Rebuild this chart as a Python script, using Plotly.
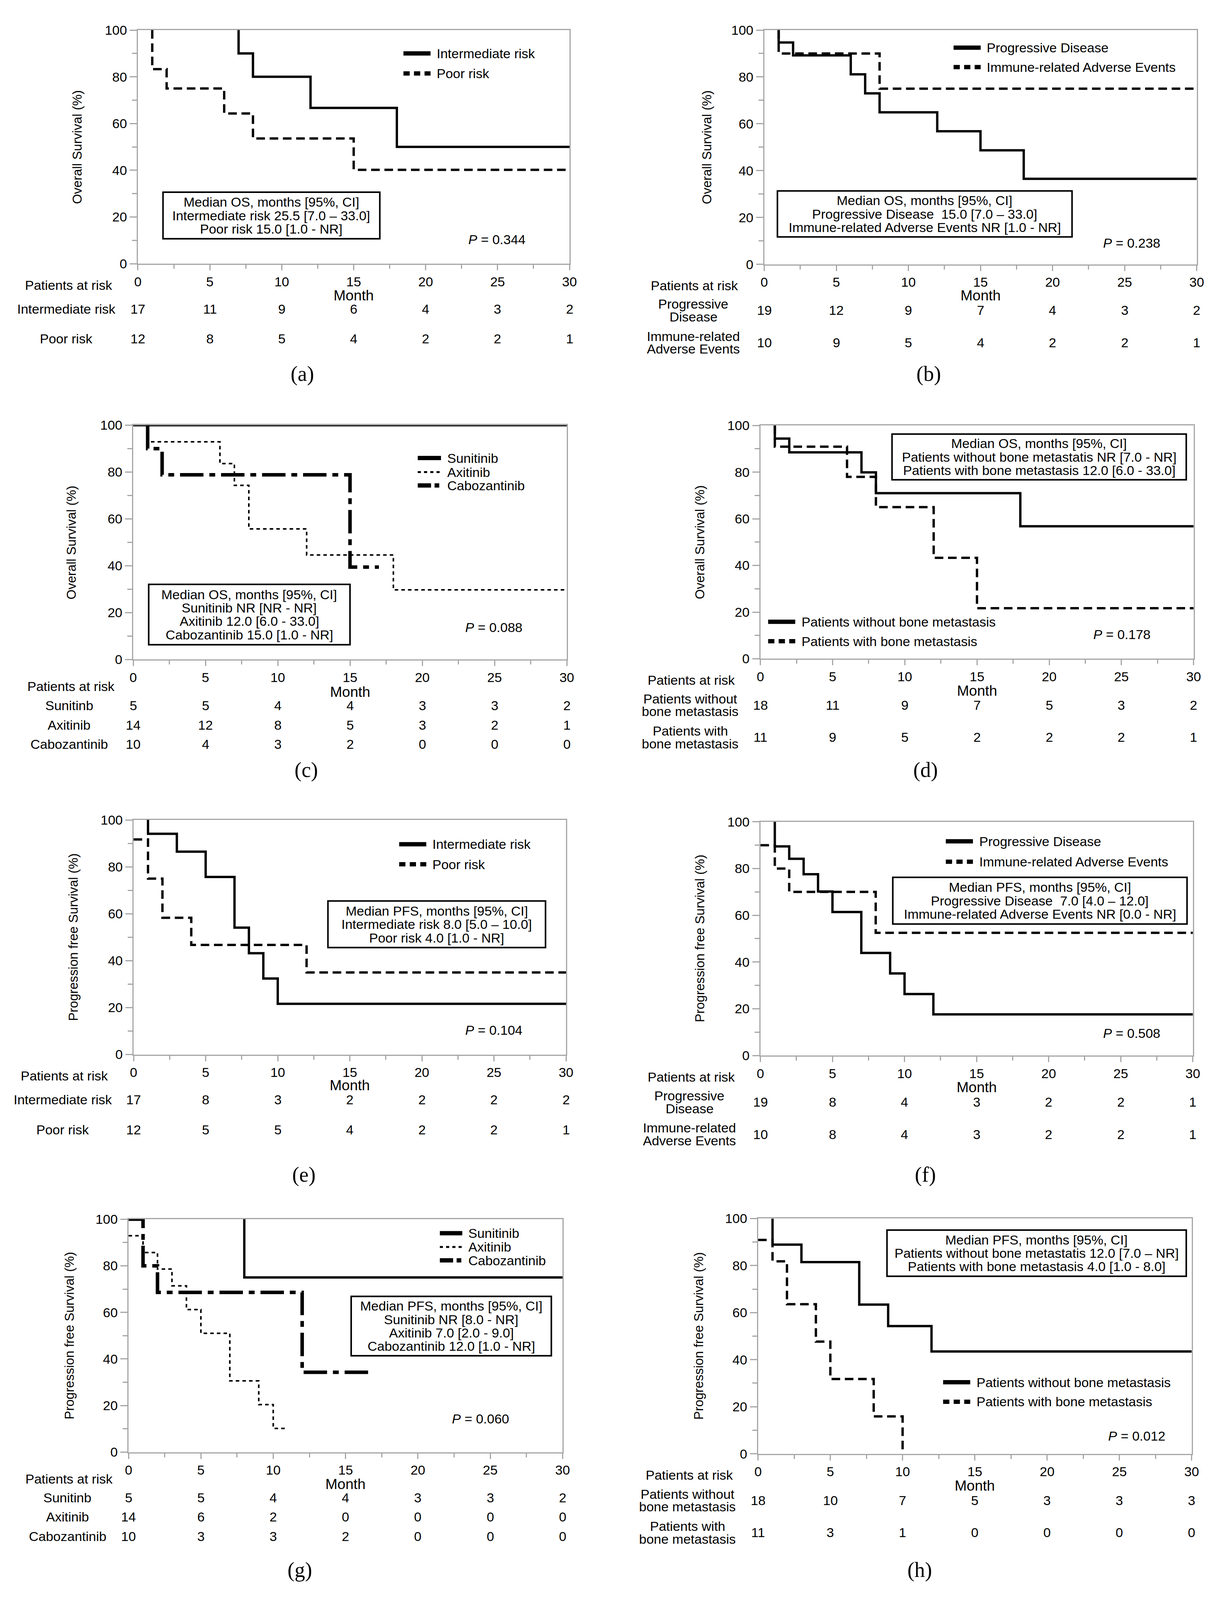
import plotly.graph_objects as go

W, H = 3154, 4967          # reference canvas, used only to express positions as fractions
FONT = "Liberation Sans, Arial, sans-serif"
SERIF = "Liberation Serif, Times New Roman, serif"
FS = 34
AXIS_GRAY = "#a6a6a6"

MONTH_TICKS = [0, 5, 10, 15, 20, 25, 30]

# ---------------- data ----------------
# (a) OS by IMDC risk
a_names = ["Intermediate risk", "Poor risk"]
a_inter_x = [7, 7, 8, 12, 18, 30]
a_inter_y = [100, 90, 80, 66.7, 50, 50]
a_poor_x = [1, 1, 2, 6, 8, 15, 30]
a_poor_y = [100, 83.3, 75, 64.3, 53.6, 40.2, 40.2]
a_risk_inter = [17, 11, 9, 6, 4, 3, 2]
a_risk_poor = [12, 8, 5, 4, 2, 2, 1]

# (b) OS by reason for discontinuation
b_names = ["Progressive Disease", "Immune-related Adverse Events"]
b_pd_x = [1, 1, 2, 6, 7, 8, 12, 15, 18, 30]
b_pd_y = [100, 94.7, 89.2, 81.1, 73.0, 64.9, 56.8, 48.7, 36.5, 36.5]
b_irae_x = [1, 1, 8, 30]
b_irae_y = [100, 90, 75, 75]
b_risk_pd = [19, 12, 9, 7, 4, 3, 2]
b_risk_irae = [10, 9, 5, 4, 2, 2, 1]

# (c) OS by second-line drug
c_names = ["Sunitinib", "Axitinib", "Cabozantinib"]
c_sun_x = [0, 30]
c_sun_y = [100, 100]
c_axi_x = [1, 1, 6, 7, 8, 12, 18, 30]
c_axi_y = [100, 92.9, 83.6, 74.3, 55.7, 44.6, 29.7, 29.7]
c_cabo_x = [1, 1, 2, 15, 17]
c_cabo_y = [100, 90, 78.8, 39.4, 39.4]
c_risk_sun = [5, 5, 4, 4, 3, 3, 2]
c_risk_axi = [14, 12, 8, 5, 3, 2, 1]
c_risk_cabo = [10, 4, 3, 2, 0, 0, 0]

# (d) OS by bone metastasis
d_names = ["Patients without bone metastasis", "Patients with bone metastasis"]
d_wo_x = [1, 1, 2, 7, 8, 18, 30]
d_wo_y = [100, 94.4, 88.5, 79.9, 71.0, 56.8, 56.8]
d_w_x = [1, 1, 6, 8, 12, 15, 30]
d_w_y = [100, 90.9, 78.0, 65.0, 43.3, 21.7, 21.7]
d_risk_wo = [18, 11, 9, 7, 5, 3, 2]
d_risk_w = [11, 9, 5, 2, 2, 2, 1]

# (e) PFS by IMDC risk
e_names = ["Intermediate risk", "Poor risk"]
e_inter_x = [1, 1, 3, 5, 7, 8, 9, 10, 30]
e_inter_y = [100, 94.1, 86.5, 75.7, 54.1, 43.2, 32.4, 21.6, 21.6]
e_poor_x = [0, 1, 2, 4, 12, 30]
e_poor_y = [91.7, 75.0, 58.3, 46.7, 35.0, 35.0]
e_risk_inter = [17, 8, 3, 2, 2, 2, 2]
e_risk_poor = [12, 5, 5, 4, 2, 2, 1]

# (f) PFS by reason for discontinuation
f_names = ["Progressive Disease", "Immune-related Adverse Events"]
f_pd_x = [1, 1, 2, 3, 4, 5, 7, 9, 10, 12, 30]
f_pd_y = [100, 89.5, 84.2, 77.6, 70.2, 61.4, 43.9, 35.1, 26.3, 17.6, 17.6]
f_irae_x = [0, 1, 2, 8, 30]
f_irae_y = [90, 80, 70, 52.5, 52.5]
f_risk_pd = [19, 8, 4, 3, 2, 2, 1]
f_risk_irae = [10, 8, 4, 3, 2, 2, 1]

# (g) PFS by second-line drug
g_names = ["Sunitinib", "Axitinib", "Cabozantinib"]
g_sun_x = [8, 8, 30]
g_sun_y = [100, 75, 75]
g_axi_x = [0, 1, 2, 3, 4, 5, 7, 9, 10, 11]
g_axi_y = [92.9, 85.7, 78.6, 71.4, 61.2, 51.0, 30.6, 20.4, 10.2, 10.2]
g_cabo_x = [0, 1, 2, 12, 16.6]
g_cabo_y = [100, 80, 68.6, 34.3, 34.3]
g_risk_sun = [5, 5, 4, 4, 3, 3, 2]
g_risk_axi = [14, 6, 2, 0, 0, 0, 0]
g_risk_cabo = [10, 3, 3, 2, 0, 0, 0]

# (h) PFS by bone metastasis
h_names = ["Patients without bone metastasis", "Patients with bone metastasis"]
h_wo_x = [1, 1, 3, 7, 9, 12, 30]
h_wo_y = [100, 88.9, 81.5, 63.4, 54.3, 43.5, 43.5]
h_w_x = [0, 1, 2, 4, 5, 8, 10]
h_w_y = [90.9, 81.8, 63.6, 47.7, 31.8, 15.9, 0]
h_risk_wo = [18, 10, 7, 5, 3, 3, 3]
h_risk_w = [11, 3, 1, 0, 0, 0, 0]

a_box = ["Median OS, months [95%, CI]", "Intermediate risk 25.5 [7.0 – 33.0]", "Poor risk 15.0 [1.0 - NR]"]
b_box = ["Median OS, months [95%, CI]", "Progressive Disease  15.0 [7.0 – 33.0]", "Immune-related Adverse Events NR [1.0 - NR]"]
c_box = ["Median OS, months [95%, CI]", "Sunitinib NR [NR - NR]", "Axitinib 12.0 [6.0 - 33.0]", "Cabozantinib 15.0 [1.0 - NR]"]
d_box = ["Median OS, months [95%, CI]", "Patients without bone metastatis NR [7.0 - NR]", "Patients with bone metastasis 12.0 [6.0 - 33.0]"]
e_box = ["Median PFS, months [95%, CI]", "Intermediate risk 8.0 [5.0 – 10.0]", "Poor risk 4.0 [1.0 - NR]"]
f_box = ["Median PFS, months [95%, CI]", "Progressive Disease  7.0 [4.0 – 12.0]", "Immune-related Adverse Events NR [0.0 - NR]"]
g_box = ["Median PFS, months [95%, CI]", "Sunitinib NR [8.0 - NR]", "Axitinib 7.0 [2.0 - 9.0]", "Cabozantinib 12.0 [1.0 - NR]"]
h_box = ["Median PFS, months [95%, CI]", "Patients without bone metastatis 12.0 [7.0 – NR]", "Patients with bone metastasis 4.0 [1.0 - 8.0]"]

p_values = ["0.344", "0.238", "0.088", "0.178", "0.104", "0.508", "0.060", "0.012"]

# ---------------- styles ----------------
SOLID = dict(color="black", width=6)
DASH = dict(color="black", width=6, dash="22px,12px")
DOT = dict(color="black", width=4, dash="9px,8px")
DASHDOT = dict(color="black", width=9, dash="60px,15px,15px,15px")
# legend key styles (thicker keys, as in the reference)
K_SOLID = dict(color="black", width=11)
K_DASH = dict(color="black", width=11, dash="16px,11px")
K_DOT = dict(color="black", width=5, dash="8px,8px")
K_DASHDOT = dict(color="black", width=11, dash="34px,9px,12px,9px")

OS = "Overall Survival (%)"
PFS = "Progression free Survival (%)"

panels = [
    dict(x0=347, x30=1462, y100=71, y0=803, ytitle=OS, ytx=190,
         traces=[(a_names[0], a_inter_x, a_inter_y, SOLID, K_SOLID), (a_names[1], a_poor_x, a_poor_y, DASH, K_DASH)],
         leg=(1033, 70, [144, 207]), box=(a_box, 412, 579, 972, 725), pxy=(1275, 727),
         month_y=903, risk_title=(168, 870), label_x=162,
         rows=[(["Intermediate risk"], a_risk_inter, 945), (["Poor risk"], a_risk_poor, 1038)],
         tag=("(a)", 772, 1148)),
    dict(x0=1965, x30=3082, y100=71, y0=805, ytitle=OS, ytx=1817,
         traces=[(b_names[0], b_pd_x, b_pd_y, SOLID, K_SOLID), (b_names[1], b_irae_x, b_irae_y, DASH, K_DASH)],
         leg=(2454, 70, [126, 187]), box=(b_box, 1999, 575, 2760, 719), pxy=(2914, 738),
         month_y=903, risk_title=(1785, 871), label_x=1782,
         rows=[(["Progressive", "Disease"], b_risk_pd, 949), (["Immune-related", "Adverse Events"], b_risk_irae, 1050)],
         tag=("(b)", 2390, 1148)),
    dict(x0=335, x30=1455, y100=1309, y0=2043, ytitle=OS, ytx=175,
         traces=[(c_names[0], c_sun_x, c_sun_y, SOLID, K_SOLID), (c_names[1], c_axi_x, c_axi_y, DOT, K_DOT),
                 (c_names[2], c_cabo_x, c_cabo_y, DASHDOT, K_DASHDOT)],
         leg=(1070, 60, [1412, 1456, 1498]), box=(c_box, 375, 1808, 895, 1997), pxy=(1267, 1942),
         month_y=2145, risk_title=(175, 2127), label_x=170,
         rows=[(["Sunitinb"], c_risk_sun, 2187), (["Axitinib"], c_risk_axi, 2248), (["Cabozantinib"], c_risk_cabo, 2308)],
         tag=("(c)", 782, 2389)),
    dict(x0=1955, x30=3074, y100=1310, y0=2041, ytitle=OS, ytx=1799,
         traces=[(d_names[0], d_wo_x, d_wo_y, SOLID, K_SOLID), (d_names[1], d_w_x, d_w_y, DASH, K_DASH)],
         leg=(1975, 70, [1925, 1986]), box=(d_box, 2295, 1337, 3055, 1480), pxy=(2889, 1965),
         month_y=2141, risk_title=(1777, 2108), label_x=1774,
         rows=[(["Patients without", "bone metastasis"], d_risk_wo, 2186), (["Patients with", "bone metastasis"], d_risk_w, 2287)],
         tag=("(d)", 2382, 2389)),
    dict(x0=336, x30=1453, y100=2546, y0=3281, ytitle=PFS, ytx=180,
         traces=[(e_names[0], e_inter_x, e_inter_y, SOLID, K_SOLID), (e_names[1], e_poor_x, e_poor_y, DASH, K_DASH)],
         leg=(1022, 70, [2622, 2685]), box=(e_box, 838, 2800, 1400, 2946), pxy=(1267, 3205),
         month_y=3378, risk_title=(157, 3348), label_x=153,
         rows=[(["Intermediate risk"], e_risk_inter, 3422), (["Poor risk"], e_risk_poor, 3516)],
         tag=("(e)", 776, 3657)),
    dict(x0=1955, x30=3072, y100=2552, y0=3284, ytitle=PFS, ytx=1799,
         traces=[(f_names[0], f_pd_x, f_pd_y, SOLID, K_SOLID), (f_names[1], f_irae_x, f_irae_y, DASH, K_DASH)],
         leg=(2434, 70, [2613, 2677]), box=(f_box, 2297, 2726, 3057, 2872), pxy=(2914, 3214),
         month_y=3384, risk_title=(1777, 3351), label_x=1772,
         rows=[(["Progressive", "Disease"], f_risk_pd, 3430), (["Immune-related", "Adverse Events"], f_risk_irae, 3531)],
         tag=("(f)", 2381, 3657)),
    dict(x0=323, x30=1444, y100=3797, y0=4527, ytitle=PFS, ytx=170,
         traces=[(g_names[0], g_sun_x, g_sun_y, SOLID, K_SOLID), (g_names[1], g_axi_x, g_axi_y, DOT, K_DOT),
                 (g_names[2], g_cabo_x, g_cabo_y, DASHDOT, K_DASHDOT)],
         leg=(1127, 58, [3841, 3884, 3926]), box=(g_box, 898, 4039, 1415, 4225), pxy=(1232, 4422),
         month_y=4627, risk_title=(170, 4611), label_x=165,
         rows=[(["Sunitinb"], g_risk_sun, 4670), (["Axitinib"], g_risk_axi, 4730), (["Cabozantinib"], g_risk_cabo, 4791)],
         tag=("(g)", 765, 4896)),
    dict(x0=1949, x30=3069, y100=3795, y0=4532, ytitle=PFS, ytx=1795,
         traces=[(h_names[0], h_wo_x, h_wo_y, SOLID, K_SOLID), (h_names[1], h_w_x, h_w_y, DASH, K_DASH)],
         leg=(2427, 70, [4308, 4369]), box=(h_box, 2282, 3831, 3055, 3976), pxy=(2927, 4476),
         month_y=4632, risk_title=(1772, 4598), label_x=1767,
         rows=[(["Patients without", "bone metastasis"], h_risk_wo, 4678), (["Patients with", "bone metastasis"], h_risk_w, 4779)],
         tag=("(h)", 2367, 4896)),
]


def px(x):
    return x / W


def py(y):
    return 1 - y / H


def text_ann(text, x, y, xref="paper", xanchor="center", size=FS, **kw):
    return dict(text=text, xref=xref, yref="paper", x=x, y=y, xanchor=xanchor,
                yanchor="middle", showarrow=False, font=dict(size=size), **kw)


fig = go.Figure()
layout = dict(
    autosize=True,
    margin=dict(l=0, r=0, t=0, b=0),
    paper_bgcolor="white", plot_bgcolor="white",
    font=dict(family=FONT, size=FS, color="black"),
    showlegend=False,
)
annotations = []
shapes = []

for i, p in enumerate(panels, start=1):
    sfx = "" if i == 1 else str(i)
    xa, ya = "x" + sfx, "y" + sfx

    # survival curves
    for name, xs, ys, style, _ in p["traces"]:
        fig.add_trace(go.Scatter(
            x=xs, y=ys, mode="lines", name=name,
            line=dict(shape="hv", **style),
            xaxis=xa, yaxis=ya, hoverinfo="skip", showlegend=False,
        ))

    # legend (key line + label)
    lx, llen, lrows = p["leg"]
    for (name, _, _, _, key), ly in zip(p["traces"], lrows):
        shapes.append(dict(type="line", xref="paper", yref="paper",
                           x0=px(lx), x1=px(lx + llen), y0=py(ly), y1=py(ly), line=key))
        annotations.append(text_ann(name, px(lx + llen + 14), py(ly), xanchor="left"))

    common = dict(
        showline=True, linecolor=AXIS_GRAY, linewidth=3, mirror=True,
        ticks="outside", tickcolor=AXIS_GRAY, tickwidth=3,
        showgrid=False, zeroline=False,
        tickfont=dict(family=FONT, size=FS, color="black"),
    )
    layout["xaxis" + sfx] = dict(
        common, domain=[px(p["x0"]), px(p["x30"])], range=[0, 30],
        anchor=ya, tickmode="array", tickvals=MONTH_TICKS, ticklen=14,
        minor=dict(tickmode="linear", tick0=0, dtick=2.5, ticks="outside", ticklen=10,
                   tickcolor=AXIS_GRAY, tickwidth=3, showgrid=False),
    )
    layout["yaxis" + sfx] = dict(
        common, domain=[py(p["y0"]), py(p["y100"])], range=[0, 100],
        anchor=xa, tickmode="linear", tick0=0, dtick=20, ticklen=18,
        minor=dict(tickmode="linear", tick0=0, dtick=10, ticks="outside", ticklen=12,
                   tickcolor=AXIS_GRAY, tickwidth=3, showgrid=False),
    )

    # axis titles
    annotations.append(text_ann(p["ytitle"], px(p["ytx"]), py((p["y0"] + p["y100"]) / 2),
                                size=33, textangle=-90))
    annotations.append(text_ann("Month", 15, py(p["month_y"]), xref=xa, size=37))

    # median survival box
    lines, bl, bt, br, bb = p["box"]
    shapes.append(dict(type="rect", xref="paper", yref="paper", layer="above",
                       x0=px(bl), x1=px(br), y0=py(bb), y1=py(bt),
                       line=dict(color="black", width=4), fillcolor="white"))
    cy = (bt + bb) / 2
    n = len(lines)
    for k, line in enumerate(lines):
        annotations.append(text_ann(line, px((bl + br) / 2), py(cy + (k - (n - 1) / 2) * 42)))

    # P value
    annotations.append(text_ann("<i>P</i> = " + p_values[i - 1], px(p["pxy"][0]), py(p["pxy"][1])))

    # number at risk table
    rtx, rty = p["risk_title"]
    annotations.append(text_ann("Patients at risk", px(rtx), py(rty)))
    for label_lines, counts, ry in p["rows"]:
        m = len(label_lines)
        for k, t in enumerate(label_lines):
            annotations.append(text_ann(t, px(p["label_x"]), py(ry + (k - (m - 1) / 2) * 40)))
        for mo, cnt in zip(MONTH_TICKS, counts):
            annotations.append(text_ann(str(cnt), mo, py(ry), xref=xa))

    # panel tag
    tt, tx, ty = p["tag"]
    ann = text_ann(tt, px(tx), py(ty), size=54)
    ann["font"] = dict(family=SERIF, size=54, color="black")
    annotations.append(ann)

layout["annotations"] = annotations
layout["shapes"] = shapes
fig.update_layout(**layout)

POST = """
document.documentElement.style.margin='0';
document.body.style.margin='0';
document.body.style.overflow='hidden';
Plotly.Plots.resize(document.getElementById('{plot_id}'));
"""

fig.write_html("out.html", default_width="100vw", default_height="100vh",
               config={"responsive": True, "displayModeBar": False}, post_script=POST)
